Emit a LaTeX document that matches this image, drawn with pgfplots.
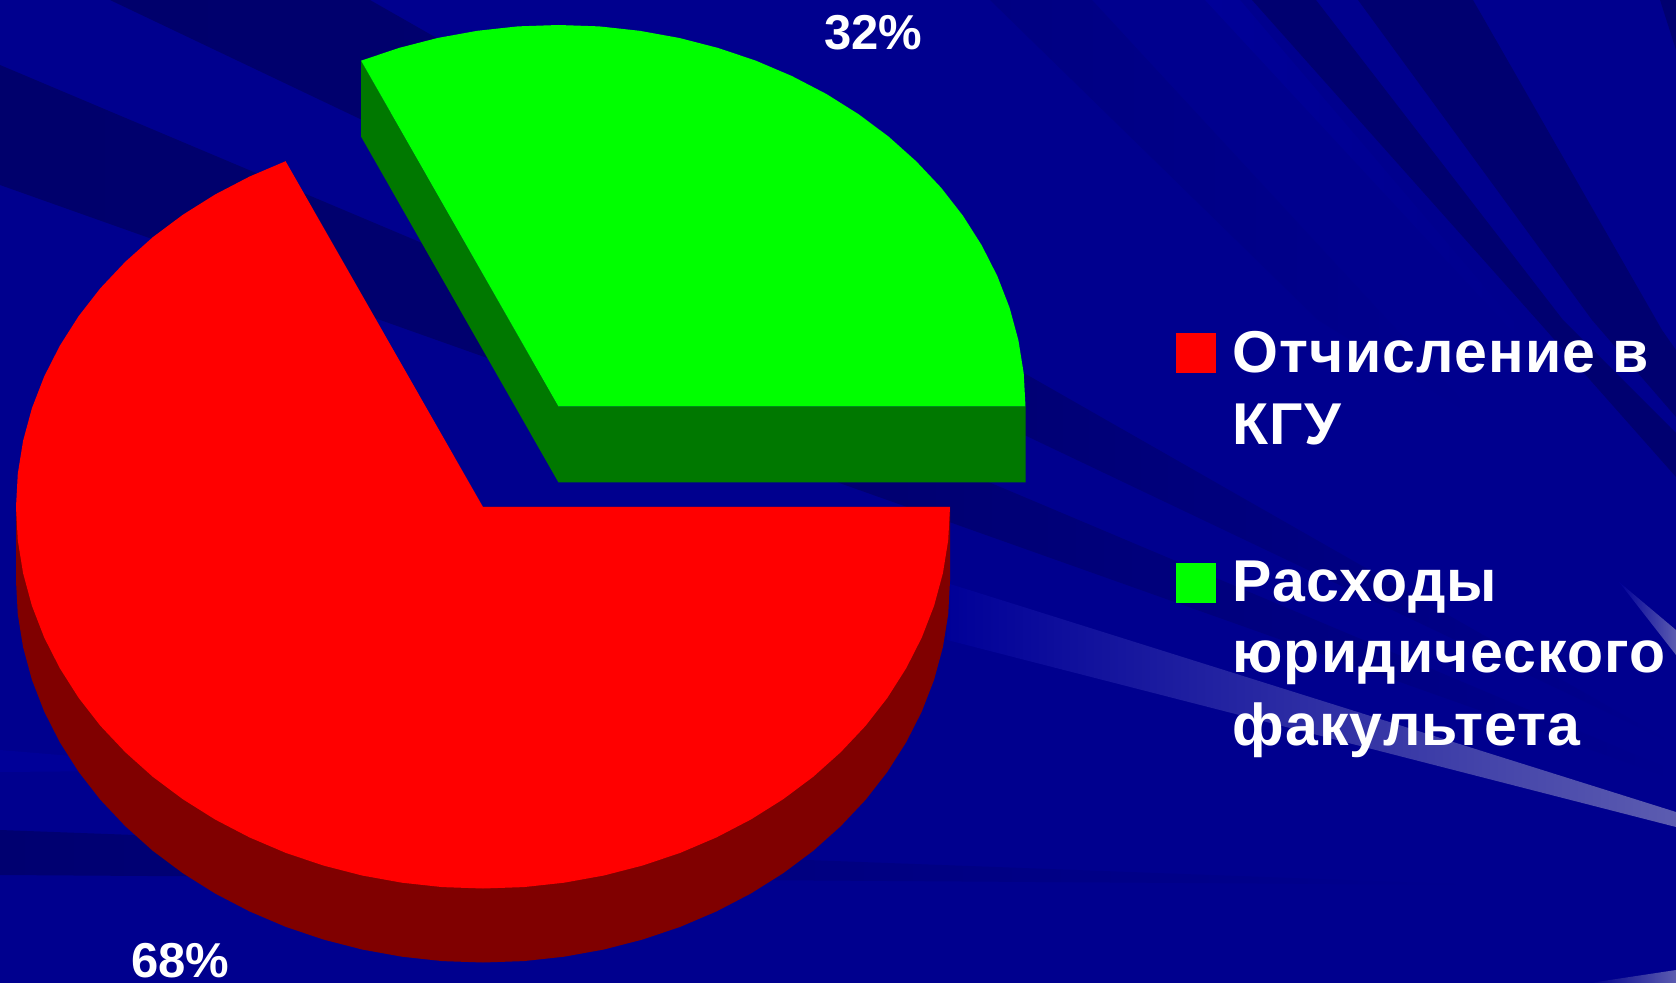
\documentclass[border=0pt]{standalone}
\usepackage{fontspec}
\setmainfont{Liberation Sans}
\newfontfamily\spaced[LetterSpace=2.0]{Liberation Sans}
\usepackage{pgfplots}
\pgfplotsset{compat=1.18}
\definecolor{bgblue}{RGB}{0,0,142}
\definecolor{rayA}{RGB}{0,0,108}
\definecolor{rayB}{RGB}{0,0,112}
\definecolor{rayC}{RGB}{0,0,130}
\definecolor{rayL}{RGB}{0,0,152}
\definecolor{hiL}{RGB}{92,92,176}
\definecolor{redtop}{RGB}{255,0,0}
\definecolor{redside}{RGB}{128,0,0}
\definecolor{greentop}{RGB}{0,255,0}
\definecolor{greenside}{RGB}{0,120,0}
\newcommand{\lab}{\fontsize{29.5}{35}\selectfont\spaced\bfseries}
\newcommand{\pct}{\fontsize{24.5}{30}\selectfont\bfseries}
\begin{document}
\begin{tikzpicture}
\begin{axis}[
    hide axis,
    scale only axis,
    width=838pt,
    height=491.5pt,
    xmin=0, xmax=1676,
    ymin=0, ymax=983,
    y dir=reverse,
    no markers,
    every axis plot/.append style={draw=none},
]
% background
\addplot[fill=bgblue] coordinates {(0,0) (1676,0) (1676,983) (0,983)};
% dark rays, upper left to lower right
\addplot[shade, left color=rayA, right color=bgblue, middle color=rayB] coordinates {(110,0) (370,0) (1676,745)};
\addplot[shade, left color=rayA, right color=bgblue, middle color=rayB] coordinates {(0,65) (0,185) (1676,780) (1676,772)};
\addplot[shade, left color=rayB, right color=bgblue] coordinates {(0,830) (0,875) (1480,885)};
\addplot[fill=rayL] coordinates {(0,750) (0,772) (240,770)};
% rays at the upper right
\addplot[shade, left color=rayC, right color=bgblue] coordinates {(990,0) (1092,0) (1480,420) (1318,320)};
\addplot[shade, left color=rayL, right color=bgblue] coordinates {(1205,0) (1240,0) (1530,340) (1520,340)};
\addplot[fill=rayB] coordinates {(1252,0) (1316,0) (1563,320) (1676,433) (1676,477) (1537,320)};
\addplot[fill=rayB] coordinates {(1358,0) (1473,0) (1662,330) (1676,350) (1676,417) (1592,320)};
\addplot[fill=rayB] coordinates {(1660,0) (1676,0) (1676,50)};
% white highlights
\addplot[shade, left color=rayL, right color=hiL] coordinates {(947,583) (1676,812) (1676,827) (947,640)};
\addplot[shade, left color=rayL, right color=hiL] coordinates {(1619,582) (1676,630) (1676,655)};
\addplot[shade, left color=bgblue, right color=hiL] coordinates {(1590,983) (1676,970) (1676,983)};

% red slice, side wall
\addplot[fill=redside] coordinates {
    (950,507) (950,581) (948.2,614.3) (942.9,647.2) (934.1,679.7) (921.8,711.5)
    (906.2,742.2) (887.4,771.8) (865.6,799.8) (840.7,826.2) (813.2,850.8)
    (783.2,873.2) (750.9,893.5) (716.5,911.4) (680.4,926.8) (642.7,939.5)
    (603.9,949.5) (564.1,956.7) (523.7,961.1) (483,962.5) (442.3,961.1)
    (401.9,956.7) (362.1,949.5) (323.3,939.5) (285.6,926.8) (249.5,911.4)
    (215.1,893.5) (182.8,873.2) (152.8,850.8) (125.3,826.2) (100.4,799.8)
    (78.6,771.8) (59.8,742.2) (44.2,711.5) (31.9,679.7) (23.1,647.2)
    (17.8,614.3) (16,581) (16,507)
};
% red slice, 68 %
\addplot[fill=redtop] coordinates {
    (950,507) (948.2,540.3) (942.9,573.2) (934.1,605.7) (921.8,637.5) (906.2,668.2)
    (887.4,697.8) (865.6,725.8) (840.7,752.2) (813.2,776.8) (783.2,799.2)
    (750.9,819.5) (716.5,837.4) (680.4,852.8) (642.7,865.5) (603.9,875.5)
    (564.1,882.7) (523.7,887.1) (483,888.5) (442.3,887.1) (401.9,882.7)
    (362.1,875.5) (323.3,865.5) (285.6,852.8) (249.5,837.4) (215.1,819.5)
    (182.8,799.2) (152.8,776.8) (125.3,752.2) (100.4,725.8) (78.6,697.8)
    (59.8,668.2) (44.2,637.5) (31.9,605.7) (23.1,573.2) (17.8,540.3) (16,507)
    (17.8,473.7) (23.1,440.8) (31.9,408.3) (44.2,376.5) (59.8,345.8) (78.6,316.2)
    (100.4,288.2) (125.3,261.8) (152.8,237.2) (182.8,214.8) (215.1,194.5)
    (249.5,176.6) (285.6,161.2) (483,507)
};
% green slice, side wall
\addplot[fill=greenside] coordinates {
    (361.1,60.7) (361.1,136.7) (558.5,482.5) (1025.5,482.5) (1025.5,406.5) (558.5,406.5)
};
% green slice, 32 %
\addplot[fill=greentop] coordinates {
    (1025.5,406.5) (1023.7,373.2) (1018.4,340.3) (1009.6,307.8) (997.3,276)
    (981.7,245.3) (962.9,215.7) (941.1,187.7) (916.2,161.3) (888.7,136.7)
    (858.7,114.3) (826.4,94) (792,76.1) (755.9,60.7) (718.2,48) (679.4,38)
    (639.6,30.8) (599.2,26.4) (558.5,25) (517.8,26.4) (477.4,30.8) (437.6,38)
    (398.8,48) (361.1,60.7) (558.5,406.5)
};
% legend keys
\addplot[fill=redtop] coordinates {(1176,333) (1216,333) (1216,373) (1176,373)};
\addplot[fill=greentop] coordinates {(1176,563) (1216,563) (1216,603) (1176,603)};

\begin{scope}[every node/.style={anchor=base west, inner sep=0pt, text=white}]
\node[font=\pct] at (axis cs:824,50) {32\%};
\node[font=\pct] at (axis cs:131,977) {68\%};
\node[font=\lab] at (axis cs:1232,373) {Отчисление в};
\node[font=\lab] at (axis cs:1232,445) {КГУ};
\node[font=\lab] at (axis cs:1232,602) {Расходы};
\node[font=\lab] at (axis cs:1232,673) {юридического};
\node[font=\lab] at (axis cs:1232,745) {факультета};
\end{scope}
\end{axis}
\end{tikzpicture}
\end{document}
